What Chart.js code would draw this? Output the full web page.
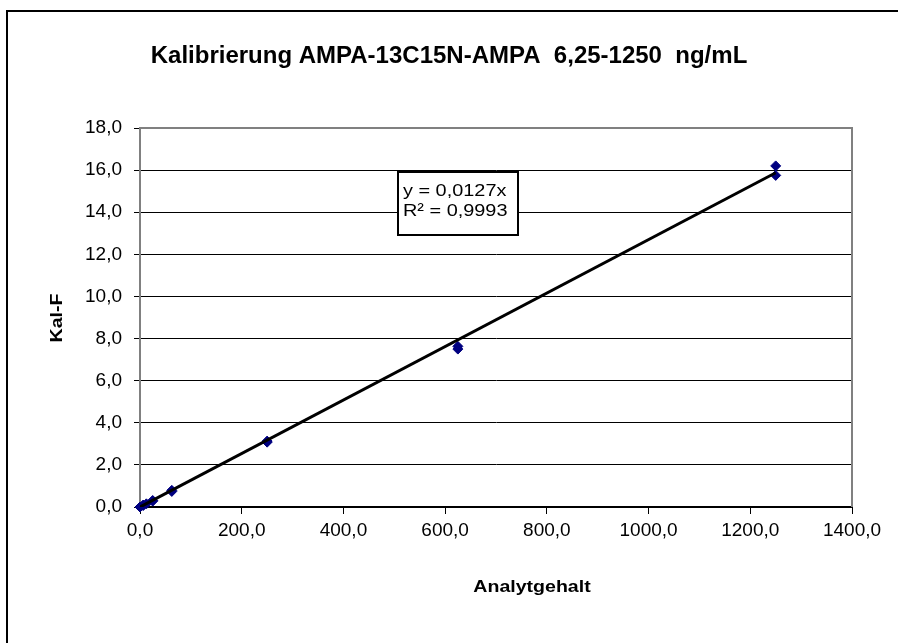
<!DOCTYPE html>
<html>
<head>
<meta charset="utf-8">
<script src="https://cdn.jsdelivr.net/npm/chart.js@4.4.0/dist/chart.umd.min.js"></script>
<style>
  html, body { margin: 0; padding: 0; background: #fff; }
  #wrap { width: 898px; height: 643px; }
</style>
</head>
<body>
<div id="wrap"><canvas id="kalChart" width="898" height="643"></canvas></div>
<script>
// Kalibrierpunkte (Analytgehalt ng/mL, Kal-F)
const kalX = [0, 6.25, 6.25, 12.5, 25, 25, 62.5, 62.5, 250, 250, 625, 625, 1250, 1250];
const kalY = [0, 0.07, 0.09, 0.15, 0.28, 0.31, 0.74, 0.79, 3.08, 3.13, 7.5, 7.63, 15.75, 16.2];

// Trendlinie y = 0,0127x
const slope = 0.0127;
const trendX = [0, 1250];

const xTicks = [0, 200, 400, 600, 800, 1000, 1200, 1400];
const yTicks = [0, 2, 4, 6, 8, 10, 12, 14, 16, 18];

const chartTitle = 'Kalibrierung AMPA-13C15N-AMPA  6,25-1250  ng/mL';
const xTitle = 'Analytgehalt';
const yTitle = 'Kal-F';
const eqLines = ['y = 0,0127x', 'R\u00B2 = 0,9993'];

const FONT = "Arial, 'Liberation Sans', sans-serif";

function fmt(v) {
    return v.toFixed(1).replace('.', ',');
}

// Text etwas breiter zeichnen (wie im Excel-Export)
function wideText(ctx, txt, x, y, sx, align) {
    ctx.save();
    ctx.translate(x, y);
    ctx.scale(sx, 1);
    ctx.textAlign = align;
    ctx.fillText(txt, 0, 0);
    ctx.restore();
}

const points = kalX.map((x, i) => ({ x: x, y: kalY[i] }));
const trend = trendX.map(x => ({ x: x, y: slope * x }));

const decor = {
    id: 'decor',
    beforeDatasetsDraw(chart) {
        const ctx = chart.ctx;
        const a = chart.chartArea;
        ctx.save();
        // äußerer Rahmen
        ctx.strokeStyle = '#000';
        ctx.lineWidth = 2;
        ctx.beginPath();
        ctx.moveTo(7, 900);
        ctx.lineTo(7, 11);
        ctx.lineTo(900, 11);
        ctx.stroke();
        // Zeichnungsfläche oben/rechts grau
        ctx.strokeStyle = '#808080';
        ctx.lineWidth = 2;
        ctx.beginPath();
        ctx.moveTo(a.left, a.top);
        ctx.lineTo(a.right, a.top);
        ctx.lineTo(a.right, a.bottom);
        ctx.stroke();
        ctx.restore();
    },
    afterDraw(chart) {
        const ctx = chart.ctx;
        ctx.save();
        ctx.fillStyle = '#000';
        ctx.textBaseline = 'middle';
        ctx.font = 'bold 24px ' + FONT;
        wideText(ctx, chartTitle, 449, 56, 1.0, 'center');
        ctx.font = 'bold 17px ' + FONT;
        wideText(ctx, xTitle, 532, 587, 1.15, 'center');
        ctx.save();
        ctx.translate(57, 318);
        ctx.rotate(-Math.PI / 2);
        wideText(ctx, yTitle, 0, 0, 1.15, 'center');
        ctx.restore();

        // Gleichungsbox
        ctx.fillStyle = '#fff';
        ctx.fillRect(398, 172, 120, 63);
        ctx.strokeStyle = '#000';
        ctx.lineWidth = 2;
        ctx.strokeRect(398, 172, 120, 63);
        ctx.fillStyle = '#000';
        ctx.textBaseline = 'alphabetic';
        ctx.font = '17px ' + FONT;
        wideText(ctx, eqLines[0], 403, 196, 1.17, 'left');
        wideText(ctx, eqLines[1], 403, 216, 1.17, 'left');
        ctx.restore();
    }
};

new Chart(document.getElementById('kalChart'), {
    type: 'scatter',
    data: {
        datasets: [{
            label: 'Trend',
            type: 'line',
            data: trend,
            borderColor: '#000',
            borderWidth: 3,
            pointRadius: 0,
            fill: false,
            order: 0
        }, {
            label: 'Kal-F',
            data: points,
            pointStyle: 'rectRot',
            pointRadius: 5,
            pointHoverRadius: 5,
            backgroundColor: '#000080',
            borderColor: '#000080',
            borderWidth: 1,
            clip: false,
            order: 1
        }]
    },
    options: {
        responsive: false,
        animation: false,
        layout: { padding: { left: 0, top: 128, right: 46, bottom: 0 } },
        plugins: {
            legend: { display: false },
            title: { display: false },
            tooltip: { enabled: false }
        },
        scales: {
            x: {
                type: 'linear',
                min: 0,
                max: 1400,
                afterFit(scale) { scale.height = 136; },
                afterBuildTicks(scale) { scale.ticks = xTicks.map(v => ({ value: v })); },
                grid: { drawOnChartArea: false, drawTicks: true, tickLength: 7, tickColor: '#000', lineWidth: 1 },
                border: { color: '#000', width: 2 },
                ticks: {
                    padding: 5,
                    color: '#000',
                    font: { family: FONT, size: 19 },
                    maxRotation: 0,
                    callback: v => fmt(v)
                }
            },
            y: {
                type: 'linear',
                min: 0,
                max: 18,
                afterFit(scale) { scale.width = 140; },
                afterBuildTicks(scale) { scale.ticks = yTicks.map(v => ({ value: v })); },
                grid: { color: '#000', lineWidth: 1, drawTicks: true, tickLength: 6, tickColor: '#000' },
                border: { color: '#808080', width: 2 },
                ticks: {
                    padding: 12,
                    color: '#000',
                    font: { family: FONT, size: 19 },
                    callback: v => fmt(v)
                }
            }
        }
    },
    plugins: [decor]
});
</script>
</body>
</html>
